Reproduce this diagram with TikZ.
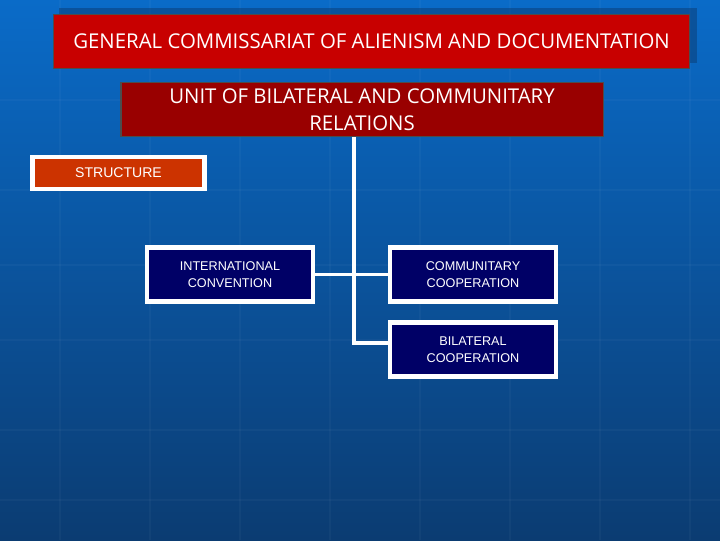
\documentclass[tikz,border=0pt]{standalone}
\usepackage{fontspec}
\setmainfont{Liberation Sans}
\newfontfamily\headfont{Open Sans}
\usetikzlibrary{positioning,calc}
\definecolor{bgtop}{HTML}{0A6BC8}
\definecolor{bgbot}{HTML}{0B3C72}
\definecolor{headred}{HTML}{C80000}
\definecolor{unitred}{HTML}{990000}
\definecolor{structred}{HTML}{CC3300}
\definecolor{navybox}{HTML}{000066}
\tikzset{
	head/.style={draw=black!70, thick, text=white, align=center, minimum height=1.35cm, font=\headfont\fontsize{14.5}{16}\selectfont},
	leaf/.style={draw=white, line width=1.2mm, fill=navybox, text=white, align=center, minimum width=4.15cm, minimum height=1.35cm, font=\small},
	link/.style={white, line width=0.9mm}
}
\begin{document}
\begin{tikzpicture}[x=0.025cm, y=-0.025cm]
            % background
            \shade[top color=bgtop, bottom color=bgbot] (0, 0) rectangle (720, 540);
            \useasboundingbox (0, 0) rectangle (720, 540);
            \foreach \gx in {60, 150, 240, 330, 420, 510, 600, 690}
                \draw[white, opacity=0.03, line width=0.5mm] (\gx, 0) -- (\gx, 540);
            \foreach \gy in {100, 190, 265, 340, 430, 500}
                \draw[white, opacity=0.03, line width=0.5mm] (0, \gy) -- (720, \gy);

            % headings
            \fill[bgbot, opacity=0.5] (59, 8) rectangle (697, 63);
            \node[head, fill=headred, minimum width=15.9cm] (general) at (371.5, 41.5)
                {GENERAL COMMISSARIAT OF ALIENISM AND DOCUMENTATION};
            \node[head, fill=unitred, minimum width=12.05cm] (unit) at (362, 109.5)
                {UNIT OF BILATERAL AND COMMUNITARY\\[3pt]RELATIONS};
            \node[draw=white, line width=1.2mm, fill=structred, text=white, minimum width=4.3cm, minimum height=0.8cm] (structure) at (118.5, 173) {STRUCTURE};

            % units
            \node[leaf] (intl) at (230, 274.5) {INTERNATIONAL\\[1pt]CONVENTION};
            \node[leaf] (commu) at (473, 274.5) {COMMUNITARY\\[1pt]COOPERATION};
            \node[leaf] (bilat) at (473, 349.5) {BILATERAL\\[1pt]COOPERATION};

            % connectors
            \coordinate (bend) at (354, 343);
            \draw[link] (unit.south -| bend) -- (bend) -- (bilat.west |- bend);
            \draw[link] (intl.east) -- (commu.west);
        \end{tikzpicture}
\end{document}
